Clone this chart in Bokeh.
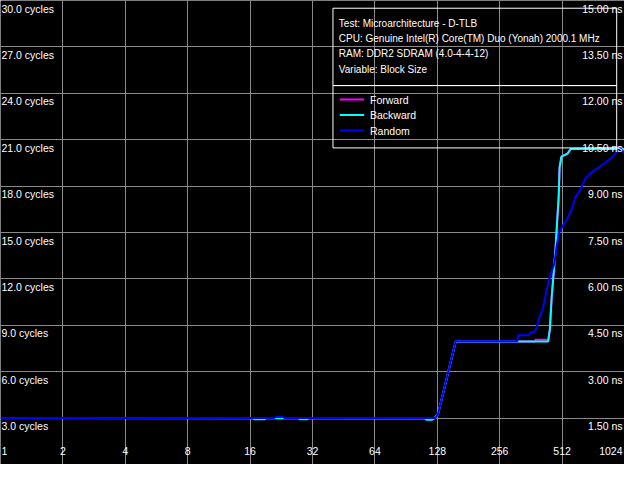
from bokeh.plotting import figure
from bokeh.models import FixedTicker, BoxAnnotation, Range1d
from bokeh.core.properties import value
from bokeh.embed import file_html
from bokeh.resources import INLINE

# ---------------- data ----------------
random_kb = [1, 20.8, 21.2, 23.1, 23.5, 125, 129, 157, 311, 314, 354, 358, 377, 384, 395,
             412, 431, 446, 470, 483, 496, 524, 553, 573, 594, 628, 664, 713, 807, 899,
             948, 981, 1024]
random_cyc = [3.0, 3.0, 3.07, 3.07, 3.0, 3.0, 3.25, 7.97, 7.97, 8.35, 8.35, 8.5, 8.6, 8.75, 9.4,
              10.0, 11.25, 12.1, 13.0, 14.2, 15.0, 15.6, 16.1, 16.6, 17.3, 17.8, 18.5, 18.9, 19.4, 19.9,
              20.3, 20.45, 20.1]

backward_kb = [1, 16.5, 16.8, 18.8, 19.1, 27.5, 27.8, 30.2, 30.5, 112, 113, 121, 123, 129, 157,
               438, 440, 447, 456, 467, 475, 484, 493, 498, 508, 544, 563, 1024]
backward_cyc = [3.0, 3.0, 2.92, 2.92, 3.0, 3.0, 2.92, 2.92, 3.0, 3.0, 2.9, 2.9, 2.95, 3.25, 7.95,
                7.95, 8.1, 8.75, 10.8, 12.5, 13.75, 15.6, 17.3, 19.2, 19.9, 20.1, 20.4, 20.4]

forward_kb = [1, 123, 129, 157, 380, 381, 438, 440, 447, 456, 467, 475, 484, 493, 498, 508,
              544, 563, 990, 1024]
forward_cyc = [3.0, 2.95, 3.25, 7.95, 7.95, 8.06, 8.06, 8.1, 8.75, 10.8, 12.5, 13.75, 15.6, 17.3,
               19.2, 19.9, 20.1, 20.4, 20.5, 20.25]

y_ticks = [3, 6, 9, 12, 15, 18, 21, 24, 27, 30]
cycle_labels = ["3.0 cycles", "6.0 cycles", "9.0 cycles", "12.0 cycles", "15.0 cycles",
                "18.0 cycles", "21.0 cycles", "24.0 cycles", "27.0 cycles", "30.0 cycles"]
ns_labels = ["1.50 ns", "3.00 ns", "4.50 ns", "6.00 ns", "7.50 ns",
             "9.00 ns", "10.50 ns", "12.00 ns", "13.50 ns", "15.00 ns"]
x_ticks = [1, 2, 4, 8, 16, 32, 64, 128, 256, 512, 1024]
x_labels = ["1", "2", "4", "8", "16", "32", "64", "128", "256", "512", "1024"]

info_lines = ["Test: Microarchitecture - D-TLB",
              "CPU: Genuine Intel(R) Core(TM) Duo (Yonah) 2000.1 MHz",
              "RAM: DDR2 SDRAM (4.0-4-4-12)",
              "Variable: Block Size"]
series_names = ["Forward", "Backward", "Random"]
series_colors = ["#ff00ff", "#00ffff", "#0000ff"]

# ---------------- figure ----------------
W, H = 624, 464
FONT = value("Liberation Sans")
FS = "10.5px"
FS_INFO = "10px"

def px2x(px):
    return 2 ** (px / 64.0)

def py2y(py):
    return 30.0 - py / 16.0

p = figure(width=W, height=H, x_axis_type="log", output_backend="svg", toolbar_location=None,
           x_range=Range1d(1, 1024), y_range=Range1d(0, 30), min_border=0,
           background_fill_color="black", border_fill_color="black")
p.outline_line_color = None
p.xaxis.visible = False
p.yaxis.visible = False
p.xgrid.ticker = FixedTicker(ticks=x_ticks[1:-1])
p.ygrid.ticker = FixedTicker(ticks=y_ticks[:-1])
for g in (p.xgrid, p.ygrid):
    g.grid_line_color = "#8a8a8a"
    g.grid_line_width = 1

# series
p.line(forward_kb, forward_cyc, line_color=series_colors[0], line_width=2)
p.line(backward_kb, backward_cyc, line_color=series_colors[1], line_width=2)
p.line(random_kb, random_cyc, line_color=series_colors[2], line_width=2)

# left tick labels
p.text(x=[px2x(1)] * len(y_ticks), y=y_ticks, text=cycle_labels, text_color="white",
       text_font=FONT, text_font_size=FS, text_align="left", text_baseline="top", y_offset=2)
# right tick labels
p.text(x=[px2x(638)] * len(y_ticks), y=y_ticks, text=ns_labels, text_color="white",
       text_font=FONT, text_font_size=FS, text_align="right", text_baseline="top", y_offset=2)
# bottom tick labels
p.text(x=x_ticks[1:-1], y=[0] * (len(x_ticks) - 2), text=x_labels[1:-1], text_color="white",
       text_font=FONT, text_font_size=FS, text_align="center", text_baseline="middle", y_offset=-14)
p.text(x=[x_ticks[0]], y=[0], text=[x_labels[0]], text_color="white", x_offset=1,
       text_font=FONT, text_font_size=FS, text_align="left", text_baseline="middle", y_offset=-14)
p.text(x=[x_ticks[-1]], y=[0], text=[x_labels[-1]], text_color="white", x_offset=-2,
       text_font=FONT, text_font_size=FS, text_align="right", text_baseline="middle", y_offset=-14)

# info / legend box
bl, br = px2x(341), px2x(632)
p.add_layout(BoxAnnotation(left=bl, right=br, top=py2y(8), bottom=py2y(88),
                           fill_alpha=0, line_color="white", line_alpha=1, line_width=1))
p.add_layout(BoxAnnotation(left=bl, right=br, top=py2y(88), bottom=py2y(152.5),
                           fill_alpha=0, line_color="white", line_alpha=1, line_width=1))
info_y = [py2y(v) for v in (24, 39.5, 55, 71)]
p.text(x=[px2x(347)] * len(info_lines), y=info_y, text=info_lines, text_color="white",
       text_font=FONT, text_font_size=FS_INFO, text_align="left", text_baseline="middle")
leg_y = [py2y(v) for v in (102.5, 118.5, 134.5)]
p.segment(x0=[px2x(348)] * 3, x1=[px2x(373)] * 3, y0=leg_y, y1=leg_y,
          line_color=series_colors, line_width=2)
p.text(x=[px2x(379)] * 3, y=leg_y, text=series_names, text_color="white",
       text_font=FONT, text_font_size=FS, text_align="left", text_baseline="middle")

open("out.html", "w").write(file_html(p, INLINE))
